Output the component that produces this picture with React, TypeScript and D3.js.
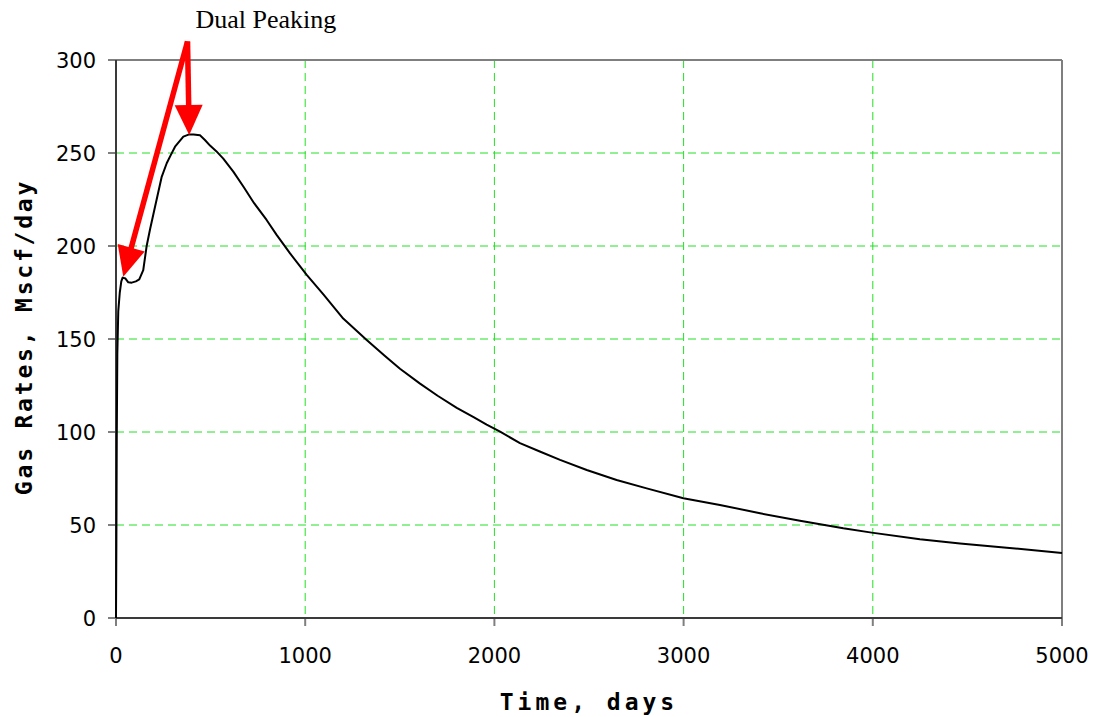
import * as d3 from "d3";

const days = [
  0, 2, 4, 7, 12, 20, 28, 35, 50, 65, 83, 105, 123, 144, 162, 180, 206, 241,
  268, 290, 312, 356, 387, 410, 444, 470, 497, 530, 567, 620, 673, 730, 796,
  849, 920, 1008, 1096, 1201, 1325, 1420, 1501, 1607, 1700, 1801, 1890, 1959,
  2030, 2135, 2240, 2347, 2488, 2646, 2805, 2999, 3192, 3404, 3615, 3844, 3994,
  4249, 4461, 4708, 5000,
];
const gasRate = [
  0, 40, 95, 142, 165, 175, 181, 183, 182.5, 180.5, 180.3, 181, 182, 187, 200,
  209, 221, 237, 244.5, 249, 253.4, 258.8, 260, 260, 259.5, 257, 254, 251, 247,
  240, 232, 223, 214, 206, 196, 184.5, 174, 161, 149.5, 141, 134, 126, 119.5,
  113, 108, 104, 100.2, 94, 89.5, 85, 79.6, 74.2, 69.7, 64.4, 60.8, 56.3, 52.3,
  48.2, 45.9, 42.3, 40.1, 37.8, 35,
];

const xTicks = [0, 1000, 2000, 3000, 4000, 5000];
const yTicks = [0, 50, 100, 150, 200, 250, 300];

const xLabel = "Time, days";
const yLabel = "Gas Rates, Mscf/day";
const noteText = "Dual Peaking";
// arrows start above the plot and point at both peaks
const arrowFrom: [number, number] = [378, 310];
const arrowTips: [number, number][] = [
  [387, 259.7],
  [38.6, 183.5],
];

const margin = { top: 60, right: 33, bottom: 99, left: 116 };
const totalWidth = 1095;
const totalHeight = 717;
const width = totalWidth - margin.left - margin.right;
const height = totalHeight - margin.top - margin.bottom;

export default function App() {
  const x = d3.scaleLinear().domain([0, 5000]).range([0, width]);
  const y = d3.scaleLinear().domain([0, 300]).range([height, 0]);

  const data: [number, number][] = days.map((d, i) => [d, gasRate[i]]);
  const line = d3
    .line<[number, number]>()
    .x((d) => x(d[0]))
    .y((d) => y(d[1]));

  const gridColor = "#22e022";
  const frameColor = "#7f7f7f";

  // arrow: shaft + triangular head
  function arrow(tip: [number, number], key: number) {
    const sx = x(arrowFrom[0]);
    const sy = y(arrowFrom[1]);
    const tx = x(tip[0]);
    const ty = y(tip[1]);
    const len = Math.hypot(tx - sx, ty - sy);
    const ux = (tx - sx) / len;
    const uy = (ty - sy) / len;
    const headLen = 30;
    const half = 14;
    const bx = tx - ux * headLen;
    const by = ty - uy * headLen;
    const pts = [
      [tx, ty],
      [bx - uy * half, by + ux * half],
      [bx + uy * half, by - ux * half],
    ];
    return (
      <g key={key}>
        <line
          x1={sx}
          y1={sy}
          x2={bx + ux * 2}
          y2={by + uy * 2}
          stroke="#ff0000"
          strokeWidth={5.5}
        />
        <polygon points={pts.map((p) => p.join(",")).join(" ")} fill="#ff0000" />
      </g>
    );
  }

  return (
    <svg
      width={totalWidth}
      height={totalHeight}
      style={{ position: "absolute", left: 0, top: 0, background: "#fff" }}
    >
      <rect width={totalWidth} height={totalHeight} fill="#fff" />
      <g transform={`translate(${margin.left},${margin.top})`}>
        {/* grid */}
        {yTicks
          .filter((t) => t > 0 && t < 300)
          .map((t) => (
            <line
              key={"gy" + t}
              x1={0}
              x2={width}
              y1={y(t)}
              y2={y(t)}
              stroke={gridColor}
              strokeWidth={1}
              strokeDasharray="8,5"
            />
          ))}
        {xTicks
          .filter((t) => t > 0 && t < 5000)
          .map((t) => (
            <line
              key={"gx" + t}
              x1={x(t)}
              x2={x(t)}
              y1={0}
              y2={height}
              stroke={gridColor}
              strokeWidth={1}
              strokeDasharray="8,5"
            />
          ))}

        {/* frame */}
        <line x1={0} x2={width} y1={0} y2={0} stroke={frameColor} strokeWidth={2} />
        <line x1={width} x2={width} y1={0} y2={height} stroke={frameColor} strokeWidth={2} />

        {/* ticks */}
        {yTicks.map((t) => (
          <g key={"ty" + t}>
            <line x1={-8} x2={0} y1={y(t)} y2={y(t)} stroke={frameColor} strokeWidth={2} />
            <text
              x={-20}
              y={y(t)}
              dy="0.36em"
              textAnchor="end"
              fontFamily="DejaVu Sans"
              fontSize={21}
              fill="#000"
            >
              {t}
            </text>
          </g>
        ))}
        {xTicks.map((t) => (
          <g key={"tx" + t}>
            <line x1={x(t)} x2={x(t)} y1={height} y2={height + 8} stroke={frameColor} strokeWidth={2} />
            <text
              x={x(t)}
              y={height + 45}
              textAnchor="middle"
              fontFamily="DejaVu Sans"
              fontSize={21}
              fill="#000"
            >
              {t}
            </text>
          </g>
        ))}

        {/* axes */}
        <line x1={0} x2={width} y1={height} y2={height} stroke="#3a3a3a" strokeWidth={2} />
        <line x1={0} x2={0} y1={0} y2={height} stroke="#3a3a3a" strokeWidth={2} />

        {/* series */}
        <path
          d={line(data) ?? ""}
          fill="none"
          stroke="#000"
          strokeWidth={2}
          strokeLinejoin="round"
        />

        {/* annotation */}
        {arrowTips.map((tip, i) => arrow(tip, i))}
        <text
          x={x(arrowFrom[0]) + 8}
          y={28 - margin.top}
          fontFamily="Liberation Serif, Times New Roman, serif"
          fontSize={26}
          fill="#000"
        >
          {noteText}
        </text>

        {/* axis labels */}
        <text
          x={width / 2}
          y={height + 92}
          textAnchor="middle"
          fontFamily="DejaVu Sans Mono"
          fontWeight={700}
          fontSize={23}
          letterSpacing={4}
          fill="#000"
        >
          {xLabel}
        </text>
        <text
          transform="rotate(-90)"
          x={-height / 2 + 2}
          y={32 - margin.left}
          textAnchor="middle"
          fontFamily="DejaVu Sans Mono"
          fontWeight={700}
          fontSize={23}
          letterSpacing={2.8}
          fill="#000"
        >
          {yLabel}
        </text>
      </g>
    </svg>
  );
}
